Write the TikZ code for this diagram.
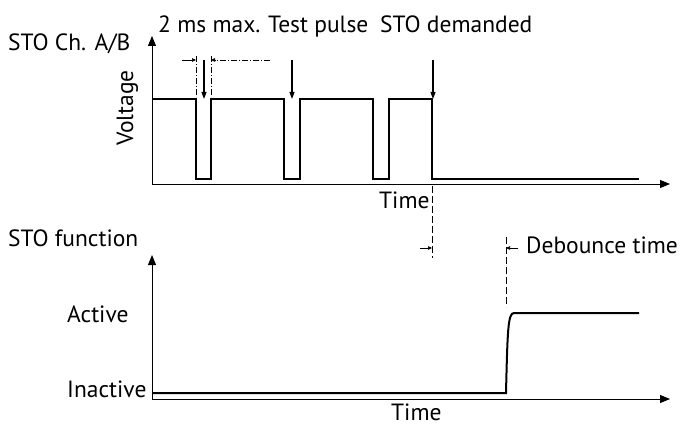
\documentclass[tikz,border=0pt]{standalone}
\usepackage{fontspec}
\setmainfont{PT Sans}
\usetikzlibrary{arrows.meta}

\begin{document}
\begin{tikzpicture}[x=1pt,y=-1pt,
axis/.style={line width=1pt,-{Triangle[length=10pt,width=8pt]}},
wave/.style={line width=2pt,line join=miter},
pulse/.style={line width=1.2pt,-{Triangle[length=7pt,width=5pt]}},
tick/.style={line width=0.7pt,-{Triangle[length=4pt,width=3.5pt]}},
dashdot/.style={line width=0.7pt,dash pattern=on 6pt off 2pt on 1pt off 2pt},
longdash/.style={line width=0.8pt,dash pattern=on 7pt off 3pt},
lbl/.style={font=\fontsize{23.5}{26}\selectfont,inner sep=0pt,anchor=base west}]
\useasboundingbox (0,0) rectangle (680,425);

% upper chart
\coordinate (o1) at (152,184);
\coordinate (y1) at (152,36);
\coordinate (x1) at (670,184);
\draw[axis] (o1) -- (y1);
\draw[axis] (o1) -- (x1);
\draw[wave] (152,99) -- (196,99) -- (196,179) -- (211,179) -- (211,99)
 -- (284,99) -- (284,179) -- (300,179) -- (300,99)
 -- (373,99) -- (373,179) -- (389,179) -- (389,99)
 -- (432,99) -- (432,179) -- (639,179);
\foreach \x/\n in {204/a,292/b,433/c}
 \draw[pulse] (\x,60) coordinate (top\n) -- (\x,99) coordinate (hit\n);
\coordinate (w1) at (196,56);
\coordinate (w2) at (211,56);
\draw[dashdot] (w1) -- (196,97);
\draw[dashdot] (w2) -- (211,97);
\draw[tick] (182,60) -- (196,60);
\draw[tick,dashdot] (270,60) -- (211,60);

\node[lbl] (ch) at (8,51) {STO Ch. A/B};
\node[lbl] (max) at (158,33) {2 ms max.};
\node[lbl] (tp) at (268,33) {Test pulse};
\node[lbl] (dem) at (380,33) {STO demanded};
\node[lbl,rotate=90,anchor=base] (volt) at (133,108) {Voltage};
\node[lbl] (time1) at (379,208) {Time};

% debounce
\coordinate (d1) at (432,186);
\coordinate (d2) at (506,237);
\draw[longdash] (d1) -- (432,258);
\draw[longdash] (d2) -- (506,307);
\draw[tick] (420,248) -- (432,248);
\draw[tick] (518,248) -- (506,248);
\node[lbl] (deb) at (526,253) {Debounce time};

% lower chart
\coordinate (o2) at (152,399);
\coordinate (y2) at (152,255);
\coordinate (x2) at (670,399);
\draw[axis] (o2) -- (y2);
\draw[axis] (o2) -- (x2);
\draw[wave] (152,393) -- (506,393) .. controls (507.5,330) and (508,313) .. (514,313) -- (639,313);

\node[lbl] (fn) at (8,246) {STO function};
\node[lbl] (act) at (67,322) {Active};
\node[lbl] (inact) at (67,397) {Inactive};
\node[lbl] (time2) at (391,420) {Time};
\end{tikzpicture}
\end{document}
